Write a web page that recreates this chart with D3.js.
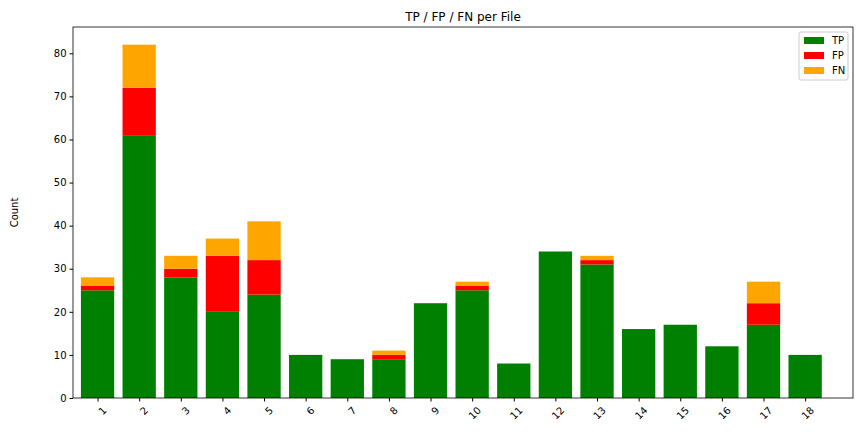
<!DOCTYPE html><html><head><script src="https://cdn.jsdelivr.net/npm/d3@7"></script>
<style>body{margin:0;background:#fff}text{font-family:"DejaVu Sans",sans-serif}</style></head><body><svg id="c" width="864" height="432"></svg>
<script>
const files=[1,2,3,4,5,6,7,8,9,10,11,12,13,14,15,16,17,18];
const tp=[25,61,28,20,24,10,9,9,22,25,8,34,31,16,17,12,17,10];
const fp=[1,11,2,13,8,0,0,1,0,1,0,0,1,0,0,0,5,0];
const fn=[2,10,3,4,9,0,0,1,0,1,0,0,1,0,0,0,5,0];
const yTicks=[0,10,20,30,40,50,60,70,80];
const svg=d3.select("#c");
const L=73,R=853,T=27,B=398;
const x=d3.scaleLinear().domain([0.41,19.15]).range([L,R]);
const y=d3.scaleLinear().domain([0,86.1]).range([B,T]);
const bw=x(0.8)-x(0);
const series=[["TP",tp,"green"],["FP",fp,"red"],["FN",fn,"orange"]];
files.forEach((f,i)=>{let base=0;series.forEach(([n,v,c])=>{const val=v[i];if(val>0){svg.append("rect").attr("x",x(f)-bw/2).attr("width",bw).attr("y",y(base+val)).attr("height",y(base)-y(base+val)).attr("fill",c);}base+=val;});});
const xa=svg.append("g").attr("transform",`translate(0,${B})`).call(d3.axisBottom(x).tickValues(files).tickFormat(d3.format("d")).tickSizeOuter(0).tickSize(3.5));
xa.selectAll("text").attr("font-size",10).attr("text-anchor","end").attr("dy",null).attr("y",0).attr("transform","translate(4,8) rotate(-45)").attr("dominant-baseline","hanging");
const ya=svg.append("g").attr("transform",`translate(${L},0)`).call(d3.axisLeft(y).tickValues(yTicks).tickSizeOuter(0).tickSize(3.5));
ya.selectAll("text").attr("font-size",10);
svg.selectAll(".domain").remove();
svg.append("rect").attr("x",L).attr("y",T).attr("width",R-L).attr("height",B-T).attr("fill","none").attr("stroke","#000").attr("stroke-width",0.8);
svg.selectAll(".tick line").attr("stroke","#000");svg.selectAll(".tick text").attr("fill","#000");
svg.append("text").attr("x",(L+R)/2).attr("y",21).attr("text-anchor","middle").attr("font-size",12).text("TP / FP / FN per File");
svg.append("text").attr("transform",`translate(18,${(T+B)/2}) rotate(-90)`).attr("text-anchor","middle").attr("font-size",10).text("Count");
const lg=svg.append("g").attr("transform","translate(799,32)");
lg.append("rect").attr("width",49).attr("height",48).attr("fill","#fff").attr("stroke","#ccc").attr("rx",2);
series.forEach(([n,v,c],i)=>{lg.append("rect").attr("x",5).attr("y",5+i*15).attr("width",20).attr("height",7).attr("fill",c);lg.append("text").attr("x",33).attr("y",12+i*15).attr("font-size",10).text(n);});
</script></body></html>
